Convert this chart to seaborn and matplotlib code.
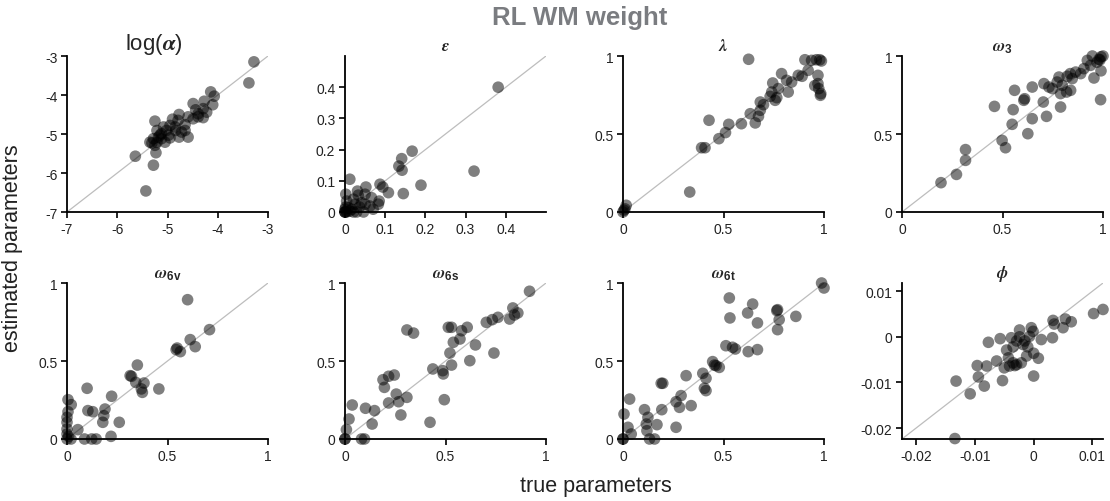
import numpy as np
import pandas as pd
import matplotlib
matplotlib.use("Agg")
import matplotlib.pyplot as plt
import seaborn as sns

# ---------------- data ----------------
titles = [r"log($\mathbfit{\alpha}$)", r"$\mathbfit{\epsilon}$", r"$\mathbfit{\lambda}$",
          r"$\mathbfit{\omega}_{\mathbf{3}}$", r"$\mathbfit{\omega}_{\mathbf{6v}}$",
          r"$\mathbfit{\omega}_{\mathbf{6s}}$", r"$\mathbfit{\omega}_{\mathbf{6t}}$",
          r"$\mathbfit{\phi}$"]

true_alpha = [-3.28, -3.38, -4.07, -4.14, -4.10, -4.27, -4.29, -4.49, -4.44, -4.39, -4.49, -4.59,
              -4.77, -4.79, -4.65, -4.77, -4.90, -4.95, -5.02, -5.08, -5.12, -4.98, -4.84, -5.21,
              -5.25, -5.18, -5.05, -4.95, -5.21, -5.28, -5.31, -5.25, -5.35, -5.23, -5.28, -5.64,
              -5.43, -4.65, -4.59, -4.29, -4.22, -4.39, -4.85, -4.72, -5.15, -5.12]
est_alpha = [-3.15, -3.69, -4.03, -3.92, -4.25, -4.16, -4.58, -4.22, -4.38, -4.48, -4.61, -4.56,
             -4.50, -4.65, -4.76, -5.08, -4.62, -4.78, -4.91, -4.82, -4.99, -5.03, -4.91, -4.91,
             -4.67, -5.08, -5.21, -5.10, -5.21, -5.12, -5.23, -5.29, -5.21, -5.48, -5.80, -5.57,
             -6.46, -4.91, -5.08, -4.35, -4.44, -4.56, -4.82, -4.95, -5.03, -5.12]

true_eps = [0.381, 0.321, 0.167, 0.141, 0.134, 0.142, 0.145, 0.189, 0.108, 0.094, 0.087, 0.085,
            0.083, 0.052, 0.050, 0.066, 0.031, 0.033, 0.012, 0.002, 0.004, 0.021, 0.041, 0.050,
            0.062, 0.070, 0.046, 0.029, 0.017, 0.008, 0.0, 0.0, 0.0, 0.002, 0.025, 0.036, 0.012,
            0.0, 0.004, 0.021]
est_eps = [0.400, 0.131, 0.195, 0.171, 0.147, 0.134, 0.059, 0.086, 0.062, 0.080, 0.089, 0.035,
           0.025, 0.080, 0.057, 0.046, 0.067, 0.054, 0.105, 0.057, 0.035, 0.041, 0.030, 0.025,
           0.019, 0.009, 0.0, 0.0, 0.009, 0.014, 0.0, 0.0, 0.0, 0.016, 0.025, 0.016, 0.003,
           0.009, 0.0, 0.0]

true_lam = [0.625, 0.428, 0.332, 0.391, 0.408, 0.477, 0.510, 0.526, 0.589, 0.633, 0.658, 0.674,
            0.683, 0.683, 0.699, 0.732, 0.740, 0.745, 0.757, 0.765, 0.773, 0.789, 0.814, 0.822,
            0.839, 0.872, 0.891, 0.921, 0.905, 0.938, 0.962, 0.979, 0.987, 0.970, 0.970, 0.974,
            0.984, 0.982, 0.954, 0.016, 0.005, 0.0, 0.010]
est_lam = [0.979, 0.588, 0.128, 0.412, 0.412, 0.470, 0.509, 0.562, 0.566, 0.630, 0.571, 0.613,
           0.652, 0.705, 0.688, 0.741, 0.769, 0.827, 0.716, 0.733, 0.791, 0.887, 0.844, 0.769,
           0.833, 0.876, 0.870, 0.908, 0.976, 0.972, 0.976, 0.976, 0.968, 0.876, 0.823, 0.791,
           0.759, 0.748, 0.810, 0.043, 0.011, 0.0, 0.020]

true_w3 = [1.0, 0.99, 0.985, 0.97, 0.99, 0.988, 0.955, 0.98, 0.947, 0.922, 0.938, 0.905, 0.889,
           0.864, 0.847, 0.837, 0.822, 0.839, 0.819, 0.797, 0.789, 0.781, 0.772, 0.789, 0.748,
           0.731, 0.706, 0.703, 0.719, 0.648, 0.648, 0.626, 0.610, 0.606, 0.560, 0.553, 0.548,
           0.460, 0.498, 0.515, 0.316, 0.316, 0.271, 0.194]
est_w3 = [1.0, 0.995, 0.975, 0.96, 0.905, 0.720, 0.859, 0.979, 1.0, 0.972, 0.940, 0.919, 0.887,
          0.897, 0.855, 0.887, 0.870, 0.780, 0.769, 0.812, 0.759, 0.865, 0.833, 0.673, 0.791,
          0.801, 0.823, 0.705, 0.613, 0.801, 0.598, 0.502, 0.726, 0.716, 0.780, 0.656, 0.562,
          0.677, 0.459, 0.412, 0.400, 0.331, 0.241, 0.188]

true_w6v = [0.600, 0.709, 0.613, 0.638, 0.564, 0.548, 0.543, 0.457, 0.350, 0.314, 0.321, 0.342,
            0.383, 0.370, 0.375, 0.222, 0.189, 0.183, 0.178, 0.260, 0.219, 0.128, 0.104, 0.100,
            0.021, 0.005, 0.005, 0.054, 0.087, 0.123, 0.145, 0.0, 0.0, 0.0, 0.0, 0.0, 0.020,
            0.008]
est_w6v = [0.893, 0.701, 0.637, 0.592, 0.560, 0.583, 0.573, 0.321, 0.474, 0.406, 0.402, 0.363,
           0.359, 0.321, 0.299, 0.274, 0.192, 0.150, 0.107, 0.107, 0.017, 0.175, 0.182, 0.325,
           0.220, 0.252, 0.175, 0.060, 0.0, 0.0, 0.0, 0.107, 0.064, 0.032, 0.0, 0.139, 0.0,
           0.017]

true_w6s = [0.918, 0.835, 0.860, 0.843, 0.819, 0.761, 0.733, 0.703, 0.741, 0.649, 0.621, 0.608,
            0.580, 0.572, 0.539, 0.530, 0.514, 0.522, 0.530, 0.489, 0.486, 0.437, 0.494, 0.423,
            0.308, 0.341, 0.245, 0.217, 0.189, 0.196, 0.255, 0.267, 0.308, 0.217, 0.278, 0.147,
            0.102, 0.135, 0.036, 0.020, 0.007, 0.0, 0.0, 0.082, 0.097]
est_w6s = [0.947, 0.840, 0.808, 0.795, 0.769, 0.780, 0.765, 0.748, 0.551, 0.603, 0.502, 0.716,
           0.694, 0.641, 0.620, 0.716, 0.716, 0.551, 0.474, 0.417, 0.438, 0.449, 0.252, 0.107,
           0.699, 0.679, 0.410, 0.402, 0.380, 0.331, 0.288, 0.239, 0.267, 0.231, 0.154, 0.182,
           0.197, 0.096, 0.218, 0.128, 0.060, 0.0, 0.0, 0.0, 0.0]

true_w6t = [0.988, 1.0, 0.860, 0.777, 0.769, 0.765, 0.769, 0.645, 0.620, 0.669, 0.669, 0.623,
            0.529, 0.532, 0.512, 0.545, 0.559, 0.446, 0.455, 0.479, 0.463, 0.397, 0.413, 0.405,
            0.413, 0.314, 0.289, 0.264, 0.281, 0.339, 0.264, 0.190, 0.198, 0.193, 0.107, 0.124,
            0.116, 0.119, 0.169, 0.132, 0.157, 0.033, 0.005, 0.025, 0.041, 0.0, 0.0]
est_w6t = [1.0, 0.968, 0.786, 0.765, 0.829, 0.823, 0.701, 0.865, 0.808, 0.744, 0.573, 0.560,
           0.904, 0.776, 0.598, 0.588, 0.577, 0.496, 0.474, 0.459, 0.470, 0.421, 0.389, 0.325,
           0.310, 0.406, 0.278, 0.239, 0.203, 0.214, 0.075, 0.357, 0.357, 0.188, 0.188, 0.139,
           0.096, 0.053, 0.092, 0.0, 0.0, 0.256, 0.160, 0.075, 0.032, 0.0, 0.0]

true_phi = [0.0118, 0.0102, 0.0064, 0.0054, 0.0050, 0.0033, 0.0035, 0.0032, 0.0013, 0.0008,
            0.0, 0.0, -0.0004, -0.0001, -0.0007, -0.0015, -0.0012, -0.0010, -0.0018, -0.0024,
            -0.0024, -0.0029, -0.0038, -0.0035, -0.0046, -0.0035, -0.0029, -0.0032, -0.0041,
            -0.0021, -0.0050, -0.0057, -0.0077, -0.0063, -0.0080, -0.0096, -0.0094, -0.0084,
            -0.0053, -0.0108, -0.0132, -0.0134, -0.0043]
est_phi = [0.0060, 0.0051, 0.0033, 0.0039, 0.0020, 0.0036, 0.0028, -0.0002, -0.0006, -0.0047,
           -0.0086, -0.0036, 0.0020, 0.0012, 0.0001, -0.0009, -0.0042, -0.0022, -0.0017, 0.0015,
           0.0, -0.0009, -0.0002, -0.0022, -0.0029, -0.0057, -0.0061, -0.0063, -0.0064, -0.0057,
           -0.0068, -0.0004, -0.0012, -0.0053, -0.0064, -0.0063, -0.0088, -0.0108, -0.0096,
           -0.0125, -0.0097, -0.0223, -0.0046]

ticks_alpha = [-7, -6, -5, -4, -3]
ticks_eps = [0, 0.1, 0.2, 0.3, 0.4]
ticks_unit = [0, 0.5, 1]
ticks_phi = [-0.02, -0.01, 0, 0.01]

panels = [
    (true_alpha, est_alpha, (-7, -3), ticks_alpha),
    (true_eps, est_eps, (0, 0.5), ticks_eps),
    (true_lam, est_lam, (0, 1), ticks_unit),
    (true_w3, est_w3, (0, 1), ticks_unit),
    (true_w6v, est_w6v, (0, 1), ticks_unit),
    (true_w6s, est_w6s, (0, 1), ticks_unit),
    (true_w6t, est_w6t, (0, 1), ticks_unit),
    (true_phi, est_phi, (-0.0224, 0.0118), ticks_phi),
]

# ---------------- style ----------------
sns.set_style("ticks")
plt.rcParams["font.family"] = ["Liberation Sans", "DejaVu Sans"]
plt.rcParams["mathtext.fontset"] = "custom"
plt.rcParams["mathtext.rm"] = "Liberation Sans"
plt.rcParams["mathtext.bf"] = "Liberation Sans:bold"
plt.rcParams["mathtext.bfit"] = "STIXGeneral:italic:bold"
plt.rcParams["mathtext.it"] = "STIXGeneral:italic"

fig = plt.figure(figsize=(11.1, 5.02), dpi=100)

lefts = [67, 345, 623, 902]
tops = [57, 284]
W, H = 201, 156
FW, FH = 1110, 502

for i, (xt, ye, lim, ticks) in enumerate(panels):
    r, c = divmod(i, 4)
    ax = fig.add_axes([lefts[c] / FW, 1 - (tops[r] + H) / FH, W / FW, H / FH])
    ax.plot(lim, lim, color="#bdbdbd", lw=0.9, zorder=1)
    df = pd.DataFrame({"true": xt, "est": ye})
    sns.scatterplot(data=df, x="true", y="est", color="black", alpha=0.5, s=70,
                    edgecolor="none", linewidth=0, ax=ax, zorder=2, clip_on=False)
    ax.set_xlim(lim)
    ax.set_ylim(lim)
    ax.set_xticks(ticks)
    ax.set_yticks(ticks)
    labs = ["%g" % t for t in ticks]
    ax.set_xticklabels(labs)
    ax.set_yticklabels(labs)
    ax.set_xlabel("")
    ax.set_ylabel("")
    for s in ["top", "right"]:
        ax.spines[s].set_visible(False)
    for s in ["left", "bottom"]:
        ax.spines[s].set_linewidth(1.3)
        ax.spines[s].set_color("black")
    ax.tick_params(direction="out", length=4, width=1.2, labelsize=10,
                   colors="black", labelcolor="#222222", pad=3)
    if i == 0:
        ax.set_title(titles[i], fontsize=16, pad=3, x=0.435)
    else:
        ax.set_title(titles[i], fontsize=12, pad=4)

fig.text(580 / FW, 1 - 18 / FH, "RL WM weight", ha="center", va="center",
         fontsize=18.5, fontweight="bold", color="#7a7c80")
fig.text(596 / FW, 1 - 487 / FH, "true parameters", ha="center", va="center",
         fontsize=15.5, color="#222222")
fig.text(13 / FW, 1 - 248 / FH, "estimated parameters", ha="center", va="center",
         rotation=90, fontsize=15.5, color="#222222")

fig.savefig("out.png", dpi=100)
